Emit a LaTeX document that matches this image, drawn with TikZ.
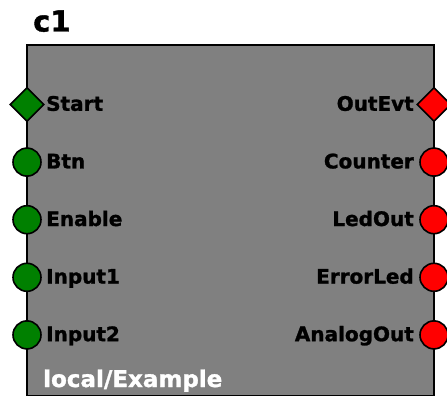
\documentclass[tikz,border=0pt]{standalone}
\usepackage{fontspec}
\setmainfont{DejaVu Sans}
\newfontfamily\heavyfont{DejaVu Sans}[BoldFeatures={FakeBold=1.3}]
\usetikzlibrary{shapes.geometric}
\tikzset{
  lbl/.style={font=\heavyfont\bfseries\fontsize{20}{24}\selectfont, text=black, inner sep=0pt},
  inport/.style={circle, draw=black, line width=1.6pt, fill={rgb,255:red,0;green,128;blue,0}, minimum size=28pt, inner sep=0pt},
  outport/.style={circle, draw=black, line width=1.6pt, fill=red, minimum size=28pt, inner sep=0pt},
  inevt/.style={diamond, draw=black, line width=1.6pt, fill={rgb,255:red,0;green,128;blue,0}, minimum size=34pt, inner sep=0pt},
  outevt/.style={diamond, draw=black, line width=1.6pt, fill=red, minimum size=34pt, inner sep=0pt},
}
\begin{document}
\begin{tikzpicture}[x=1pt,y=-1pt]
\useasboundingbox (0,0) rectangle (447,398);
\node[font=\heavyfont\bfseries\fontsize{29}{34}\selectfont, anchor=base west, inner sep=0pt] (title) at (33,31.5) {c1};
\draw[line width=1.6pt, fill={rgb,255:red,128;green,128;blue,128}] (27,45) rectangle (434,395.5);
\node[font=\heavyfont\bfseries\fontsize{23}{28}\selectfont, text=white, anchor=base west, inner sep=0pt] (type) at (43,387) {local/Example};
% left ports
\node[inevt] (pstart) at (27,104.5) {};
\node[inport] (pbtn) at (27,162.1) {};
\node[inport] (penable) at (27,219.7) {};
\node[inport] (pin1) at (27,277.3) {};
\node[inport] (pin2) at (27,334.9) {};
\node[lbl, anchor=base west] (lstart) at (46,110.8) {Start};
\node[lbl, anchor=base west] (lbtn) at (46,168.4) {Btn};
\node[lbl, anchor=base west] (lenable) at (46,226) {Enable};
\node[lbl, anchor=base west] (lin1) at (46,283.6) {Input1};
\node[lbl, anchor=base west] (lin2) at (46,341.2) {Input2};
% right ports
\node[outevt] (pout) at (434,104.5) {};
\node[outport] (pcnt) at (434,162.1) {};
\node[outport] (pled) at (434,219.7) {};
\node[outport] (perr) at (434,277.3) {};
\node[outport] (pana) at (434,334.9) {};
\node[lbl, anchor=base east] (lout) at (414,110.8) {OutEvt};
\node[lbl, anchor=base east] (lcnt) at (414,168.4) {Counter};
\node[lbl, anchor=base east] (lled) at (414,226) {LedOut};
\node[lbl, anchor=base east] (lerr) at (414,283.6) {ErrorLed};
\node[lbl, anchor=base east] (lana) at (414,341.2) {AnalogOut};
\end{tikzpicture}
\end{document}
